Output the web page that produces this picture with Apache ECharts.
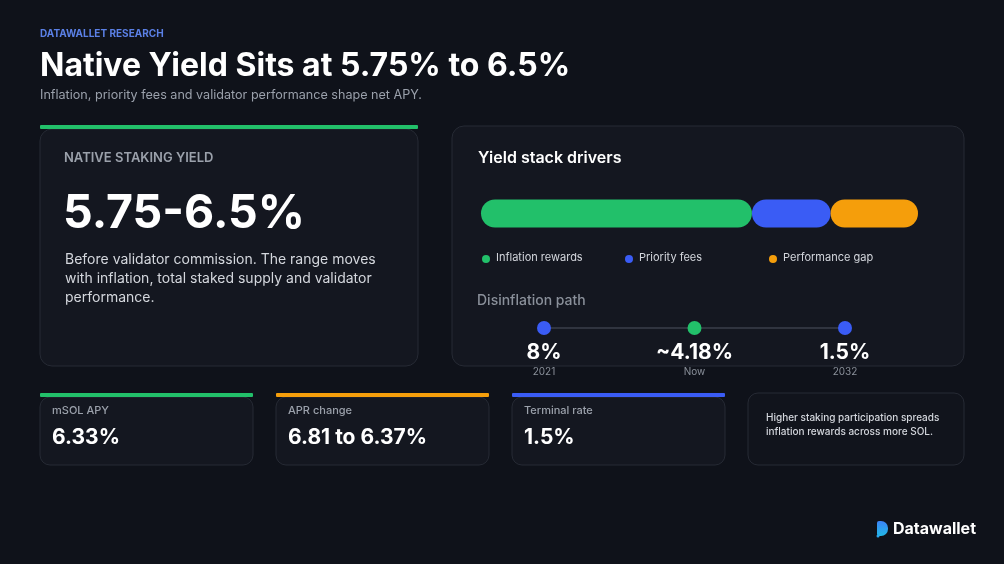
<!DOCTYPE html>
<html>
<head>
<meta charset="utf-8">
<script src="https://cdn.jsdelivr.net/npm/echarts@6/dist/echarts.min.js"></script>
<style>
  html, body { margin: 0; padding: 0; background: #0f121a; }
  #chart { width: 1004px; height: 564px; }
</style>
</head>
<body>
<div id="chart"></div>
<script>
// yield stack segments (share of the bar, %)
const stackNames = ['Inflation rewards', 'Priority fees', 'Performance gap'];
const stackValues = [62, 18, 20];
const stackColors = ['#22c06a', '#3a5cf5', '#f59e0b'];

// disinflation path
const pathYears = ['2021', 'Now', '2032'];
const pathRates = [8, 4.18, 1.5];
const pathLabels = ['8%', '~4.18%', '1.5%'];
const pathColors = ['#3a5cf5', '#22c06a', '#3a5cf5'];

// stat cards
const statLabels = ['mSOL APY', 'APR change', 'Terminal rate'];
const statValues = ['6.33%', '6.81 to 6.37%', '1.5%'];
const statColors = ['#22c06a', '#f59e0b', '#3a5cf5'];

const FONT = 'Inter, "Noto Sans", sans-serif';
const CARD_FILL = '#141720';
const CARD_STROKE = '#262a34';

let el = document.getElementById('chart');
let inst = echarts.init(el, null, { renderer: 'canvas' });

function txt(x, y, text, size, color, weight) {
  return {
    type: 'text', x: x, y: y,
    style: { text: text, fontSize: size, fill: color, fontWeight: weight || 'normal',
             fontFamily: FONT, textVerticalAlign: 'middle' }
  };
}

let graphics = [];

// header
graphics.push(txt(40, 34, 'DATAWALLET RESEARCH', 10, '#5b80e6', 'bold'));
graphics.push(txt(40, 66, 'Native Yield Sits at 5.75% to 6.5%', 32, '#ffffff', 'bold'));
graphics.push(txt(40, 95, 'Inflation, priority fees and validator performance shape net APY.', 12.6, '#9aa0ab', 'normal'));

// left card
graphics.push({ type: 'rect', shape: { x: 40, y: 129, width: 378, height: 237, r: 12 },
  style: { fill: CARD_FILL, stroke: CARD_STROKE, lineWidth: 1 } });
graphics.push({ type: 'rect', shape: { x: 40, y: 125, width: 378, height: 4, r: 1 },
  style: { fill: '#22c06a' } });
graphics.push(txt(64, 158, 'NATIVE STAKING YIELD', 13, '#9ba1ab', 600));
graphics.push(txt(63, 214, '5.75-6.5%', 46.5, '#ffffff', 'bold'));
['Before validator commission. The range moves',
 'with inflation, total staked supply and validator',
 'performance.'].forEach(function (line, i) {
  graphics.push(txt(65, 260 + i * 19, line, 14, '#d4d7dd', 'normal'));
});

// right card
graphics.push({ type: 'rect', shape: { x: 452, y: 126, width: 512, height: 240, r: 12 },
  style: { fill: CARD_FILL, stroke: CARD_STROKE, lineWidth: 1 } });
graphics.push(txt(478, 158, 'Yield stack drivers', 16, '#ffffff', 600));
let legendX = [486, 629, 773];
stackNames.forEach(function (n, i) {
  graphics.push({ type: 'circle', shape: { cx: legendX[i], cy: 259, r: 4 }, style: { fill: stackColors[i] } });
  graphics.push(txt(legendX[i] + 10, 258, n, 11, '#d4d7dd', 'normal'));
});
graphics.push(txt(477, 301, 'Disinflation path', 14, '#8a909a', 500));

// bottom stat cards
let cardX = [40, 276, 512];
statLabels.forEach(function (l, i) {
  graphics.push({ type: 'rect', shape: { x: cardX[i], y: 397, width: 213, height: 68, r: 10 },
    style: { fill: CARD_FILL, stroke: CARD_STROKE, lineWidth: 1 } });
  graphics.push({ type: 'rect', shape: { x: cardX[i], y: 393, width: 213, height: 4, r: 1 },
    style: { fill: statColors[i] } });
  graphics.push(txt(cardX[i] + 12, 411, l, 11, '#9ba1ab', 500));
  graphics.push(txt(cardX[i] + 12, 438, statValues[i], 21, '#ffffff', 'bold'));
});
graphics.push({ type: 'rect', shape: { x: 748, y: 393, width: 216, height: 72, r: 10 },
  style: { fill: '#11141c', stroke: CARD_STROKE, lineWidth: 1 } });
graphics.push(txt(766, 418, 'Higher staking participation spreads', 10, '#d4d7dd', 500));
graphics.push(txt(766, 432, 'inflation rewards across more SOL.', 10, '#d4d7dd', 500));

// logo
graphics.push({ type: 'rect', shape: { x: 877, y: 521, width: 11, height: 15, r: [2, 7, 7, 2] },
  style: { fill: new echarts.graphic.LinearGradient(0, 0, 0, 1, [
    { offset: 0, color: '#3b82f6' }, { offset: 1, color: '#22b8e6' }]) } });
graphics.push({ type: 'circle', shape: { cx: 878, cy: 536, r: 1.5 }, style: { fill: '#2aa8f0' } });
graphics.push(txt(893, 529, 'Datawallet', 16, '#ffffff', 'bold'));

// stacked bar series
let stackSeries = stackNames.map(function (n, i) {
  return {
    name: n, type: 'bar', stack: 'yield', xAxisIndex: 0, yAxisIndex: 0,
    barWidth: 28, data: [stackValues[i]],
    itemStyle: { color: stackColors[i], borderRadius: 14 },
    silent: true
  };
});

let option = {
  backgroundColor: '#0f121a',
  animation: false,
  textStyle: { fontFamily: FONT },
  graphic: graphics,
  grid: [
    { left: 481, top: 199, width: 437, height: 29 },
    { left: 544, top: 308, width: 301, height: 40 }
  ],
  xAxis: [
    { gridIndex: 0, type: 'value', min: 0, max: 100, show: false },
    { gridIndex: 1, type: 'category', data: pathYears, boundaryGap: false,
      axisLine: { show: false }, axisTick: { show: false }, splitLine: { show: false },
      axisLabel: { color: '#8a909a', fontSize: 10, margin: 19, fontFamily: FONT } }
  ],
  yAxis: [
    { gridIndex: 0, type: 'category', data: ['Yield'], show: false },
    { gridIndex: 1, type: 'value', min: -1, max: 1, show: false }
  ],
  series: stackSeries.concat([
    {
      type: 'line', xAxisIndex: 1, yAxisIndex: 1, silent: true,
      data: pathRates.map(function (r, i) { return { value: [i, 0], rate: r,
        itemStyle: { color: pathColors[i], borderWidth: 0 } }; }),
      symbol: 'circle', symbolSize: 14,
      lineStyle: { color: '#3a3f4a', width: 1.5 },
      label: {
        show: true, position: 'bottom', distance: 7,
        formatter: function (p) { return pathLabels[p.dataIndex]; },
        color: '#ffffff', fontSize: 21, fontWeight: 'bold', fontFamily: FONT
      }
    }
  ])
};
inst.setOption(option);
</script>
</body>
</html>
